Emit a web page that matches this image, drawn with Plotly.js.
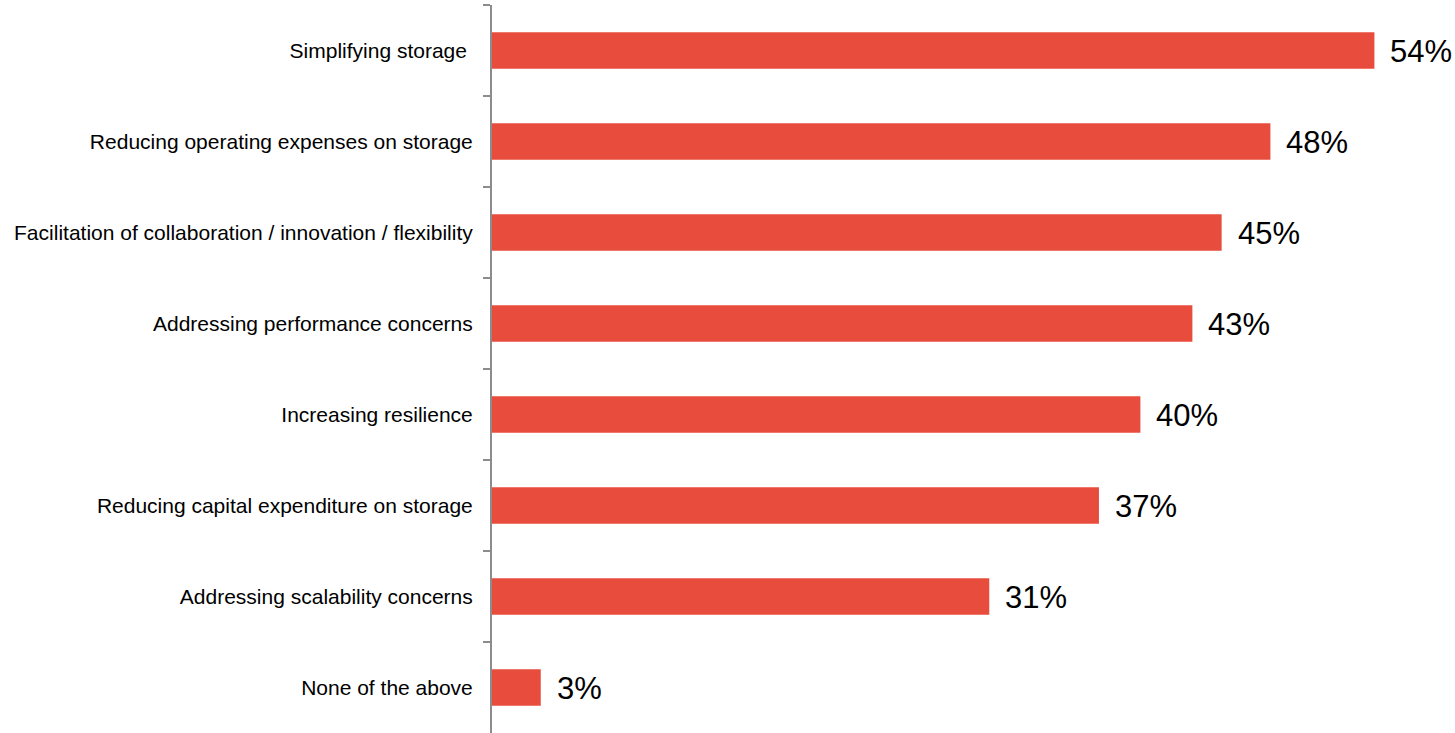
<!DOCTYPE html>
<html>
<head>
<meta charset="utf-8">
<script src="https://cdn.plot.ly/plotly-3.0.1.min.js"></script>
<style>html,body{margin:0;padding:0;background:#fff;}#chart{width:1455px;height:733px;}</style>
</head>
<body>
<div id="chart"></div>
<script>
const categories = [
  "Simplifying storage\u00a0",
  "Reducing operating expenses on storage",
  "Facilitation of collaboration / innovation / flexibility",
  "Addressing performance concerns",
  "Increasing resilience",
  "Reducing capital expenditure on storage",
  "Addressing scalability concerns",
  "None of the above"
];
const values = [54.3, 47.9, 44.9, 43.1, 39.9, 37.35, 30.6, 3.0];
const valueLabels = ["54%", "48%", "45%", "43%", "40%", "37%", "31%", "3%"];

const trace = {
  type: "bar",
  orientation: "h",
  y: categories,
  x: values,
  marker: {color: "#E84C3D"},
  hoverinfo: "none"
};

const annotations = categories.map((c, i) => ({
  x: values[i], y: c, xref: "x", yref: "y",
  text: valueLabels[i], showarrow: false,
  xanchor: "left", xshift: 14, yshift: -1,
  font: {family: "Liberation Sans, Arial, sans-serif", size: 31, color: "#000"}
}));

const layout = {
  width: 1455, height: 733,
  margin: {l: 492, r: 0, t: 5, b: 0},
  paper_bgcolor: "#fff", plot_bgcolor: "#fff",
  showlegend: false,
  bargap: 0.6,
  font: {family: "Liberation Sans, Arial, sans-serif", color: "#000"},
  xaxis: {range: [0, 59.26], visible: false, fixedrange: true},
  yaxis: {
    type: "category",
    autorange: "reversed",
    showline: true, linecolor: "#8c8c8c", linewidth: 2,
    ticks: "outside", tickson: "boundaries", ticklen: 7, tickcolor: "#8c8c8c", tickwidth: 2,
    showgrid: false, zeroline: false,
    tickfont: {size: 21, color: "#000"},
    ticklabelstandoff: 13
  },
  annotations: annotations
};

Plotly.newPlot("chart", [trace], layout, {displayModeBar: false, staticPlot: true});
</script>
</body>
</html>
